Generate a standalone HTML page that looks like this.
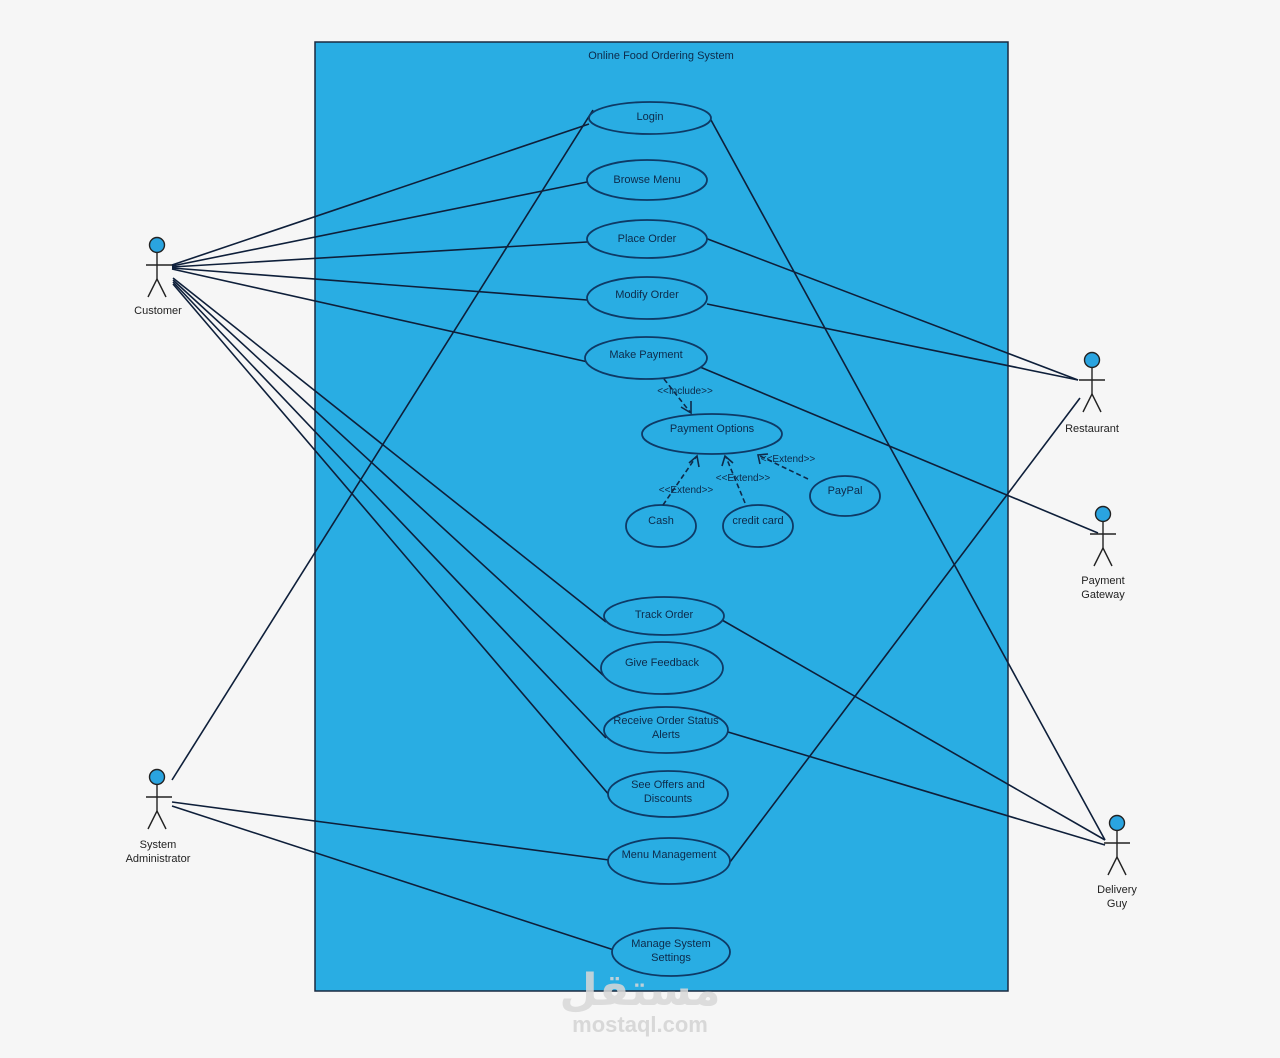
<!DOCTYPE html>
<html><head><meta charset="utf-8"><style>
html,body{margin:0;padding:0;background:#f7f7f7;}
svg{display:block}
text{font-family:"Liberation Sans",Arial,sans-serif;font-size:11px;fill:#0d2a4a;text-anchor:middle}
</style></head><body>
<svg width="1280" height="1058" viewBox="0 0 1280 1058" xmlns="http://www.w3.org/2000/svg">
<rect width="1280" height="1058" fill="#f6f6f6"/>
<rect x="315" y="42" width="693" height="949" fill="#29ade3" stroke="#1a2a40" stroke-width="1.5"/>
<text x="661" y="59">Online Food Ordering System</text>
<g stroke="#0e1f3a" stroke-width="1.6" fill="none">
<line x1="172" y1="265" x2="589" y2="124"/>
<line x1="172" y1="266" x2="587" y2="182"/>
<line x1="172" y1="267" x2="587" y2="242"/>
<line x1="172" y1="268" x2="587" y2="300"/>
<line x1="172" y1="269" x2="588" y2="362"/>
<line x1="173" y1="278" x2="606" y2="622"/>
<line x1="173" y1="280" x2="604" y2="676"/>
<line x1="173" y1="282" x2="606" y2="738"/>
<line x1="173" y1="284" x2="610" y2="796"/>
<line x1="593" y1="110" x2="172" y2="780"/>
<line x1="172" y1="802" x2="609" y2="860"/>
<line x1="172" y1="806" x2="614" y2="950"/>
<line x1="711" y1="120" x2="1105" y2="840"/>
<line x1="705" y1="238" x2="1078" y2="380"/>
<line x1="707" y1="304" x2="1078" y2="380"/>
<line x1="700" y1="367" x2="1098" y2="533"/>
<line x1="730" y1="862" x2="1080" y2="398"/>
<line x1="722" y1="620" x2="1105" y2="840"/>
<line x1="728" y1="732" x2="1105" y2="845"/>
</g>
<g stroke="#0e3a66" stroke-width="1.8" fill="#29ade3">
<ellipse cx="650" cy="118" rx="61" ry="16"/>
<ellipse cx="647" cy="180" rx="60" ry="20"/>
<ellipse cx="647" cy="239" rx="60" ry="19"/>
<ellipse cx="647" cy="298" rx="60" ry="21"/>
<ellipse cx="646" cy="358" rx="61" ry="21"/>
<ellipse cx="712" cy="434" rx="70" ry="20"/>
<ellipse cx="661" cy="526" rx="35" ry="21"/>
<ellipse cx="758" cy="526" rx="35" ry="21"/>
<ellipse cx="845" cy="496" rx="35" ry="20"/>
<ellipse cx="664" cy="616" rx="60" ry="19"/>
<ellipse cx="662" cy="668" rx="61" ry="26"/>
<ellipse cx="666" cy="730" rx="62" ry="23"/>
<ellipse cx="668" cy="794" rx="60" ry="23"/>
<ellipse cx="669" cy="861" rx="61" ry="23"/>
<ellipse cx="671" cy="952" rx="59" ry="24"/>
</g>
<g stroke="#0e2a4a" stroke-width="1.6" fill="none" stroke-dasharray="5,3">
<line x1="664" y1="379" x2="690" y2="412"/>
<line x1="663" y1="505" x2="696" y2="457"/>
<line x1="745" y1="503" x2="726" y2="457"/>
<line x1="808" y1="479" x2="760" y2="456"/>
</g>
<g stroke="#0e2a4a" stroke-width="1.6" fill="none">
<polyline points="681,407 691,413 691,401"/>
<polyline points="689,463 697,456 699,467"/>
<polyline points="722,466 725,456 733,463"/>
<polyline points="760,464 758,455 768,454"/>
</g>
<text x="650" y="120">Login</text>
<text x="647" y="183">Browse Menu</text>
<text x="647" y="242">Place Order</text>
<text x="647" y="298">Modify Order</text>
<text x="646" y="358">Make Payment</text>
<text x="712" y="432">Payment Options</text>
<text x="661" y="524">Cash</text>
<text x="758" y="524">credit card</text>
<text x="845" y="494">PayPal</text>
<text x="664" y="618">Track Order</text>
<text x="662" y="666">Give Feedback</text>
<text x="666" y="724">Receive Order Status</text>
<text x="666" y="738">Alerts</text>
<text x="668" y="788">See Offers and</text>
<text x="668" y="802">Discounts</text>
<text x="669" y="858">Menu Management</text>
<text x="671" y="947">Manage System</text>
<text x="671" y="961">Settings</text>
<text x="685" y="394" style="font-size:10px">&lt;&lt;Include&gt;&gt;</text>
<text x="686" y="493" style="font-size:10px">&lt;&lt;Extend&gt;&gt;</text>
<text x="743" y="481" style="font-size:10px">&lt;&lt;Extend&gt;&gt;</text>
<text x="788" y="462" style="font-size:10px">&lt;&lt;Extend&gt;&gt;</text>
<g stroke="#222" stroke-width="1.4" fill="none">
<g transform="translate(157,245)"><line x1="0" y1="8" x2="0" y2="34"/><line x1="-11" y1="20" x2="15" y2="20"/><line x1="0" y1="34" x2="-9" y2="52"/><line x1="0" y1="34" x2="9" y2="52"/><circle cx="0" cy="0" r="7.5" fill="#2aa4e0"/></g>
<g transform="translate(157,777)"><line x1="0" y1="8" x2="0" y2="34"/><line x1="-11" y1="20" x2="15" y2="20"/><line x1="0" y1="34" x2="-9" y2="52"/><line x1="0" y1="34" x2="9" y2="52"/><circle cx="0" cy="0" r="7.5" fill="#2aa4e0"/></g>
<g transform="translate(1092,360)"><line x1="0" y1="8" x2="0" y2="34"/><line x1="-13" y1="20" x2="13" y2="20"/><line x1="0" y1="34" x2="-9" y2="52"/><line x1="0" y1="34" x2="9" y2="52"/><circle cx="0" cy="0" r="7.5" fill="#2aa4e0"/></g>
<g transform="translate(1103,514)"><line x1="0" y1="8" x2="0" y2="34"/><line x1="-13" y1="20" x2="13" y2="20"/><line x1="0" y1="34" x2="-9" y2="52"/><line x1="0" y1="34" x2="9" y2="52"/><circle cx="0" cy="0" r="7.5" fill="#2aa4e0"/></g>
<g transform="translate(1117,823)"><line x1="0" y1="8" x2="0" y2="34"/><line x1="-13" y1="20" x2="13" y2="20"/><line x1="0" y1="34" x2="-9" y2="52"/><line x1="0" y1="34" x2="9" y2="52"/><circle cx="0" cy="0" r="7.5" fill="#2aa4e0"/></g>
</g>
<g style="fill:#222">
<text x="158" y="314" style="fill:#222">Customer</text>
<text x="158" y="848" style="fill:#222">System</text>
<text x="158" y="862" style="fill:#222">Administrator</text>
<text x="1092" y="432" style="fill:#222">Restaurant</text>
<text x="1103" y="584" style="fill:#222">Payment</text>
<text x="1103" y="598" style="fill:#222">Gateway</text>
<text x="1117" y="893" style="fill:#222">Delivery</text>
<text x="1117" y="907" style="fill:#222">Guy</text>
</g>
<text x="640" y="1005" style="font-size:44px;font-weight:bold;fill:#d8d8d8;opacity:0.85;font-family:'DejaVu Sans',sans-serif">مستقل</text>
<text x="640" y="1032" style="font-size:22px;font-weight:bold;fill:#d8d8d8">mostaql.com</text>
</svg>
</body></html>
